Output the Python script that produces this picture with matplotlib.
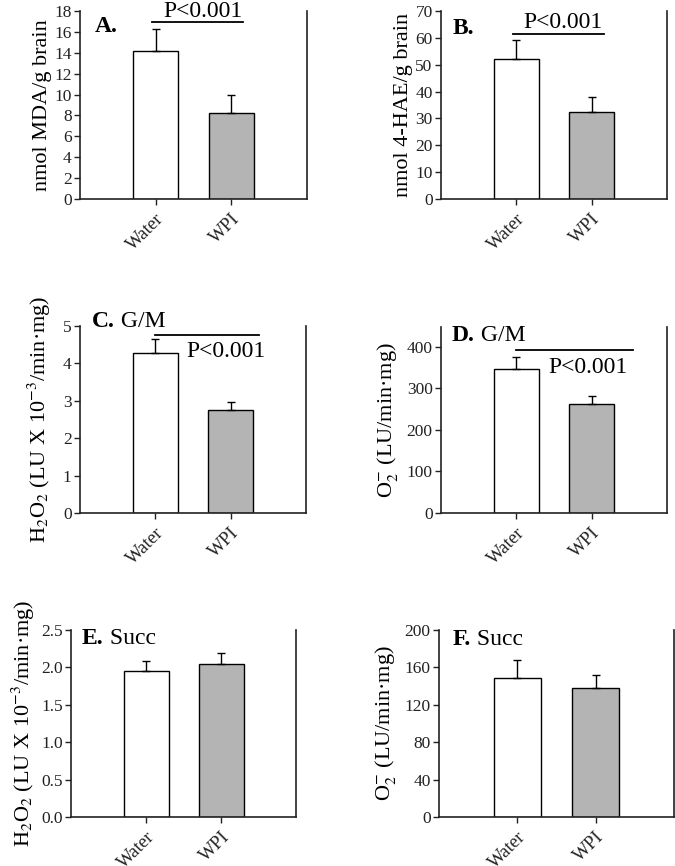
import numpy as np
import matplotlib
matplotlib.use("Agg")
import matplotlib.pyplot as plt

plt.rcParams["font.family"] = ["Liberation Serif", "DejaVu Serif"]
plt.rcParams["mathtext.fontset"] = "stix"

groups = ["Water", "WPI"]

mda_mean = [14.2, 8.2]
mda_err = [2.1, 1.8]
hae_mean = [52.2, 32.3]
hae_err = [7.0, 5.7]
h2o2_gm_mean = [4.29, 2.76]
h2o2_gm_err = [0.37, 0.22]
o2_gm_mean = [346, 262]
o2_gm_err = [30, 21]
h2o2_succ_mean = [1.95, 2.04]
h2o2_succ_err = [0.14, 0.15]
o2_succ_mean = [149, 138]
o2_succ_err = [19, 14]

bar_colors = ["white", "#b4b4b4"]
W, H = 675, 866


def px_axes(fig, left, right, top, bottom):
    # axes box given in pixel coords of the reference
    return fig.add_axes([left / W, (H - bottom) / H, (right - left) / W, (bottom - top) / H])


def draw_panel(ax, means, errs, ylim, yticks, ylabel, label_x, letter, sub, letter_xy, tick_fmt=None):
    x = np.arange(len(groups))
    ax.bar(x, means, width=0.6, color=bar_colors, edgecolor="black", linewidth=1.0, zorder=2)
    ax.errorbar(x, means, yerr=[np.zeros(len(errs)), errs], fmt="none", ecolor="black",
                elinewidth=1.0, capsize=3, capthick=1.0, zorder=3)
    ax.set_xlim(-1, 2)
    ax.set_ylim(*ylim)
    ax.set_yticks(yticks)
    if tick_fmt:
        ax.set_yticklabels([tick_fmt % v for v in yticks])
    ax.set_xticks(x)
    ax.set_xticklabels(groups, rotation=45, ha="right", rotation_mode="anchor", fontsize=13.5)
    ax.tick_params(axis="y", labelsize=12.5, length=4, width=1, pad=2, colors="#222222")
    ax.tick_params(axis="x", length=4, width=1, pad=4, colors="#222222")
    for s in ["left", "bottom", "right"]:
        ax.spines[s].set_linewidth(1.2)
        ax.spines[s].set_color("#222222")
    ax.spines["top"].set_visible(False)
    ax.set_ylabel(ylabel, fontsize=16)
    ax.yaxis.set_label_coords(label_x, 0.5)
    t = ax.text(letter_xy[0], letter_xy[1], letter, transform=ax.transAxes, fontsize=17,
                fontweight="bold", va="baseline", ha="left")
    if sub:
        ax.annotate(" " + sub, xy=(1, 0), xycoords=t, fontsize=17, va="bottom", ha="left")


def sig_bar(ax, x0, x1, y_line, tx, ty, text="P<0.001"):
    ax.plot([x0, x1], [y_line, y_line], color="black", linewidth=1.3, clip_on=False)
    ax.text(tx, ty, text, ha="center", va="baseline", fontsize=17)


fig = plt.figure(figsize=(6.75, 8.66), dpi=100)

axA = px_axes(fig, 80, 307, 11, 199)
draw_panel(axA, mda_mean, mda_err, (0, 18), np.arange(0, 19, 2), "nmol MDA/g brain",
           -0.123, "A.", None, (0.066, 0.89))
sig_bar(axA, -0.05, 1.15, 16.9, 0.62, 17.45)

axB = px_axes(fig, 441, 667, 11, 199)
draw_panel(axB, hae_mean, hae_err, (0, 70), np.arange(0, 71, 10), "nmol 4-HAE/g brain",
           -0.124, "B.", None, (0.053, 0.88))
sig_bar(axB, -0.04, 1.16, 61.5, 0.62, 63.5)

axC = px_axes(fig, 80, 306, 326, 513)
draw_panel(axC, h2o2_gm_mean, h2o2_gm_err, (0, 5), np.arange(0, 6, 1),
           r"H$_2$O$_2$ (LU X 10$^{-3}$/min·mg)", -0.12, "C.", "G/M", (0.053, 0.995))
sig_bar(axC, -0.01, 1.37, 4.76, 0.94, 4.16)

axD = px_axes(fig, 441, 667, 327, 513)
draw_panel(axD, o2_gm_mean, o2_gm_err, (0, 448), np.arange(0, 401, 100),
           r"O$_2^{-}$ (LU/min·mg)", -0.18, "D.", "G/M", (0.049, 0.925))
sig_bar(axD, 0.0, 1.55, 392, 0.95, 338)

axE = px_axes(fig, 71, 296, 630, 817)
draw_panel(axE, h2o2_succ_mean, h2o2_succ_err, (0, 2.5), np.arange(0, 2.51, 0.5),
           r"H$_2$O$_2$ (LU X 10$^{-3}$/min·mg)", -0.15, "E.", "Succ", (0.049, 0.925),
           tick_fmt="%.1f")

axF = px_axes(fig, 439, 674, 630, 817)
draw_panel(axF, o2_succ_mean, o2_succ_err, (0, 200), np.arange(0, 201, 40),
           r"O$_2^{-}$ (LU/min·mg)", -0.175, "F.", "Succ", (0.06, 0.92))

fig.savefig("out.png", dpi=100)
